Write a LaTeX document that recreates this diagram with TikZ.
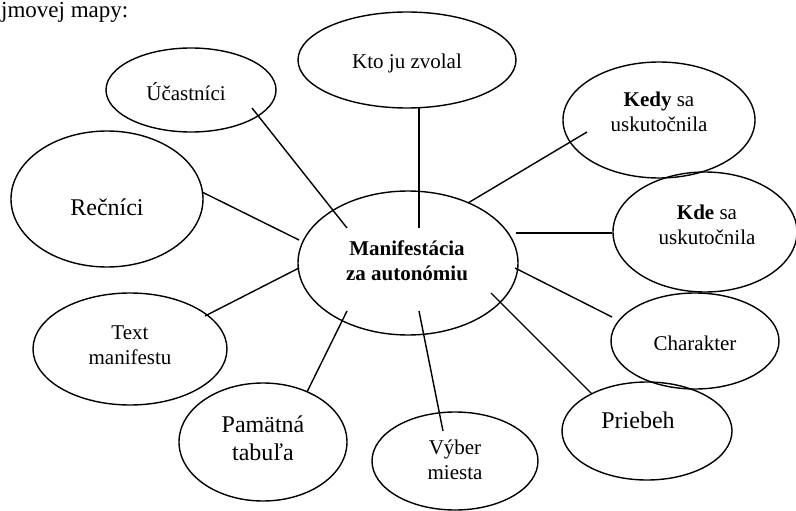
\documentclass[tikz,border=0pt]{standalone}
\usepackage{fontspec}
\setmainfont{Liberation Serif}
\usetikzlibrary{shapes.geometric}
\begin{document}
\begin{tikzpicture}[x=1pt,y=-1pt,
  bub/.style={draw, ellipse, line width=1.4pt, inner sep=0pt},
  txt/.style={font=\fontsize{21}{25}\selectfont, align=center, inner sep=0pt},
  bigtxt/.style={font=\fontsize{24}{28}\selectfont, align=center, inner sep=0pt},
  con/.style={line width=1.4pt}]
\useasboundingbox (0,0) rectangle (796,511);

% header
\node[anchor=base west, inner sep=0pt, font=\fontsize{23}{28}\selectfont] (hdr) at (1,18) {jmovej mapy:};

% ellipses
\node[bub, minimum width=220pt, minimum height=144pt] (c) at (408,263) {};
\node[bub, minimum width=218pt, minimum height=96pt] (kto) at (407,60) {};
\node[bub, minimum width=170pt, minimum height=84pt] (uc) at (191,90) {};
\node[bub, minimum width=192pt, minimum height=136pt] (rec) at (107,199) {};
\node[bub, minimum width=192pt, minimum height=116pt] (kedy) at (659,120) {};
\node[bub, minimum width=184pt, minimum height=120pt] (kde) at (705,232) {};
\node[bub, minimum width=168pt, minimum height=96pt] (char) at (695,341) {};
\node[bub, minimum width=170pt, minimum height=98pt] (prie) at (647,431) {};
\node[bub, minimum width=194pt, minimum height=112pt] (tm) at (130,349) {};
\node[bub, minimum width=168pt, minimum height=118pt] (pam) at (263,442) {};
\node[bub, minimum width=166pt, minimum height=98pt] (vyb) at (455,461) {};

% texts
\node[txt] (c-t) at (407,261) {\textbf{Manifestácia}\\\textbf{za autonómiu}};
\node[txt] (kto-t) at (407,63) {Kto ju zvolal};
\node[txt] (uc-t) at (186,92) {Účastníci};
\node[bigtxt] (rec-t) at (107,207) {Rečníci};
\node[txt] (kedy-t) at (659,112) {\textbf{Kedy} sa\\uskutočnila};
\node[txt] (kde-t) at (707,225) {\textbf{Kde} sa\\uskutočnila};
\node[txt] (char-t) at (695,343) {Charakter};
\node[bigtxt] (prie-t) at (638,420) {Priebeh};
\node[txt] (tm-t) at (130,345) {Text\\manifestu};
\node[bigtxt] (pam-t) at (263,438) {Pamätná\\tabuľa};
\node[txt] (vyb-t) at (455,460) {Výber\\miesta};

% connector end points
\coordinate (uc-a) at (252,108);   \coordinate (uc-b) at (347,228);
\coordinate (kto-a) at (419,108);  \coordinate (kto-b) at (419,228);
\coordinate (kedy-a) at (587,132); \coordinate (kedy-b) at (468,203);
\coordinate (kde-a) at (612,233);  \coordinate (kde-b) at (516,233);
\coordinate (char-a) at (612,317); \coordinate (char-b) at (515,268);
\coordinate (prie-a) at (592,394); \coordinate (prie-b) at (491,293);
\coordinate (vyb-a) at (443,431);  \coordinate (vyb-b) at (419,311);
\coordinate (pam-a) at (307,392);  \coordinate (pam-b) at (347,311);
\coordinate (tm-a) at (205,316);   \coordinate (tm-b) at (299,268);
\coordinate (rec-a) at (202,192);  \coordinate (rec-b) at (299,240);

% connectors
\draw[con] (uc-a) -- (uc-b);
\draw[con] (kto-a) -- (kto-b);
\draw[con] (kedy-a) -- (kedy-b);
\draw[con] (kde-a) -- (kde-b);
\draw[con] (char-a) -- (char-b);
\draw[con] (prie-a) -- (prie-b);
\draw[con] (vyb-a) -- (vyb-b);
\draw[con] (pam-a) -- (pam-b);
\draw[con] (tm-a) -- (tm-b);
\draw[con] (rec-a) -- (rec-b);
\end{tikzpicture}
\end{document}
